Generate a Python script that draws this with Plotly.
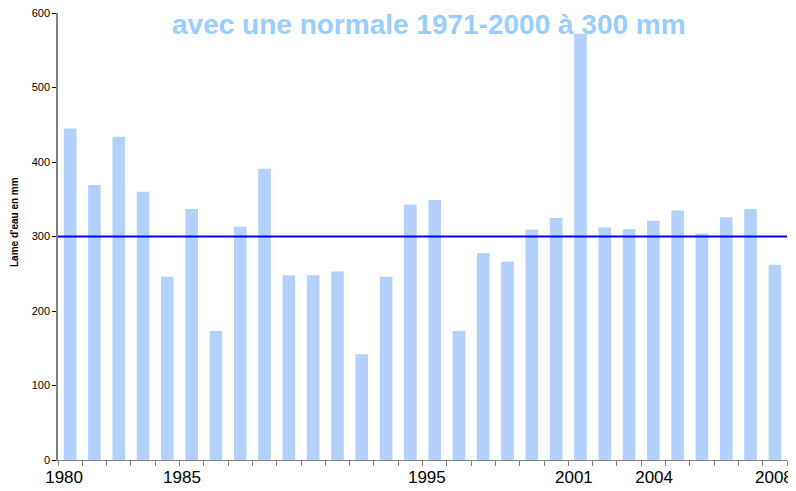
import plotly.graph_objects as go

# Lame d'eau annuelle (mm), 30 barres dans l'ordre du graphique
values = [445, 369, 434, 360, 246, 337, 173, 313, 391, 248,
          248, 253, 142, 246, 343, 349, 173, 278, 266, 309,
          325, 572, 312, 310, 321, 335, 304, 326, 337, 262]
bar_index = list(range(len(values)))

tick_labels = ["1980", "1985", "1995", "2001", "2004", "2008"]
tick_positions = [-0.25, 4.6, 14.68, 20.73, 24.03, 28.96]

normale = 300
title_text = "avec une normale 1971-2000 à 300 mm"
y_title = "Lame d'eau en mm"

FONT = "Liberation Sans, Arial, sans-serif"

# page body has an 8px margin: figure coordinates are page coordinates minus 8
OFF = 8
W, H = 788, 483
L, R, T, B = 58 - OFF, 9, 13 - OFF, 31
PW, PH = W - L - R, H - T - B


def px_x(page_x):
    return (page_x - OFF - L) / PW


def px_y(page_y):
    return (H - B - (page_y - OFF)) / PH


fig = go.Figure()
fig.add_trace(go.Bar(
    x=bar_index, y=values,
    marker=dict(color="#B3D1FF", line=dict(width=0)),
    width=0.52,
    hoverinfo="y",
))

fig.add_shape(type="line", xref="paper", x0=0, x1=1, yref="y", y0=normale, y1=normale,
              line=dict(color="#0000FF", width=2))

fig.add_annotation(text=title_text, xref="paper", yref="paper",
                   x=px_x(428.5), y=px_y(8), borderpad=0,
                   xanchor="center", yanchor="top", showarrow=False,
                   font=dict(family=FONT, size=28, color="#99CCFF", weight="bold"))

fig.add_annotation(text="<b>" + y_title + "</b>", xref="paper", yref="paper",
                   x=px_x(15), y=px_y(222),
                   xanchor="center", yanchor="middle", showarrow=False, textangle=-90,
                   font=dict(family=FONT, size=10, color="black"))

fig.update_layout(
    width=W, height=H,
    margin=dict(l=L, r=R, t=T, b=B, autoexpand=False),
    paper_bgcolor="white", plot_bgcolor="white",
    showlegend=False,
    font=dict(family=FONT, color="black"),
    xaxis=dict(
        range=[-0.5, 29.5], automargin=False,
        tickmode="array", tickvals=tick_positions, ticktext=tick_labels,
        ticks="outside", ticklen=2, tickcolor="rgba(0,0,0,0)",
        tickfont=dict(size=17, color="black"),
        ticklabeloverflow="allow",
        showline=True, linecolor="#808080", linewidth=1,
        showgrid=False, zeroline=False,
        minor=dict(tick0=-0.5, dtick=1, ticks="outside", ticklen=5,
                   tickcolor="#808080", tickwidth=1, showgrid=False),
    ),
    yaxis=dict(
        range=[0, 600], dtick=100, automargin=False,
        ticks="outside", ticklen=4, tickcolor="black",
        tickfont=dict(size=11, color="black"),
        ticklabeloverflow="allow",
        showline=True, linecolor="#808080", linewidth=1.5,
        showgrid=False, zeroline=False,
    ),
)

fig.write_html("out.html")
